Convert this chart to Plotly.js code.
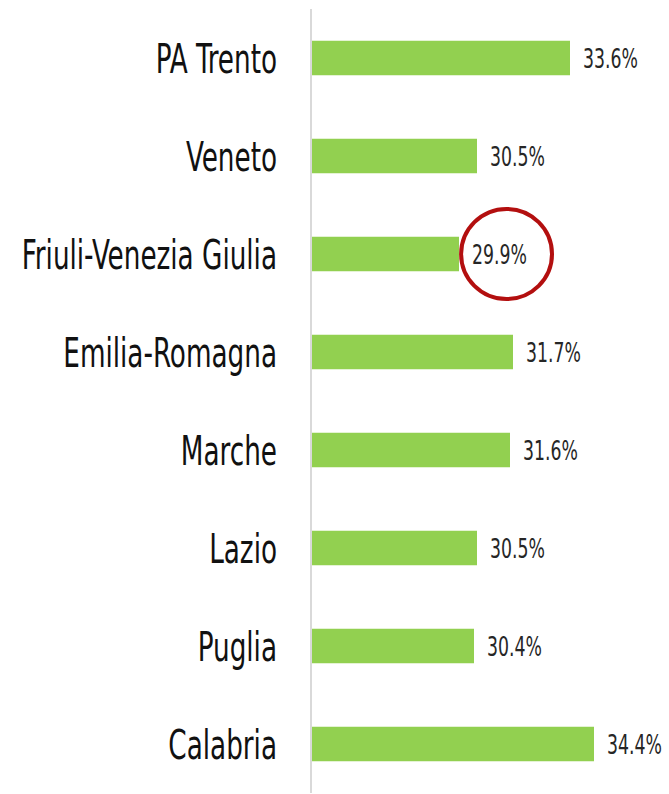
<!DOCTYPE html>
<html>
<head>
<meta charset="utf-8">
<script src="https://cdn.plot.ly/plotly-3.0.1.min.js"></script>
<style>
html,body{margin:0;padding:0;background:#fff;}
#chart{width:669px;height:794px;}
</style>
</head>
<body>
<div id="chart"></div>
<script>
const categories = ["PA Trento","Veneto","Friuli-Venezia Giulia","Emilia-Romagna","Marche","Lazio","Puglia","Calabria"];
const values = [33.6, 30.5, 29.9, 31.7, 31.6, 30.5, 30.4, 34.4];
const valueLabels = values.map(v => v.toFixed(1) + "%");
const highlighted = "Friuli-Venezia Giulia";

const FONT = "'DejaVu Sans Condensed', 'Liberation Sans Narrow', sans-serif";

const bars = {
  type: "bar",
  orientation: "h",
  y: categories,
  x: values,
  marker: {color: "#92D050"},
  hoverinfo: "none"
};

const labels = {
  type: "scatter",
  mode: "text",
  y: categories,
  x: values,
  text: valueLabels,
  textposition: "middle right",
  textfont: {family: FONT, size: 26, color: "#262626"},
  cliponaxis: false,
  hoverinfo: "none"
};

const hi = categories.indexOf(highlighted);

const layout = {
  width: 669, height: 794,
  margin: {l: 312, r: 27, t: 9, b: 1},
  paper_bgcolor: "#fff", plot_bgcolor: "#fff",
  showlegend: false,
  bargap: 0.65,
  xaxis: {range: [25, 36], visible: false, fixedrange: true},
  yaxis: {
    autorange: "reversed",
    showline: true, linecolor: "#d9d9d9", linewidth: 2,
    showgrid: false, zeroline: false, ticks: "",
    ticklabelstandoff: 25,
    tickfont: {family: FONT, size: 40, color: "#111"}
  },
  shapes: [{
    type: "circle", xref: "x", yref: "y",
    x0: 29.97, x1: 33.0, y0: hi - 0.46, y1: hi + 0.46,
    line: {color: "#B30F0F", width: 4}
  }]
};

function condense(sel, s, dx, dy) {
  document.querySelectorAll(sel).forEach(t => {
    const x = parseFloat(t.getAttribute("x")) || 0;
    const prev = t.getAttribute("transform") || "";
    t.setAttribute("transform", prev + ` translate(${x + dx},${dy}) scale(${s},1) translate(${-x},0)`);
  });
}

Plotly.newPlot("chart", [bars, labels], layout, {displayModeBar: false, staticPlot: true}).then(() => {
  condense("#chart .ytick text", 0.73, 0, 1);
  condense("#chart .textpoint text", 0.74, 13, 4);
});
</script>
</body>
</html>
